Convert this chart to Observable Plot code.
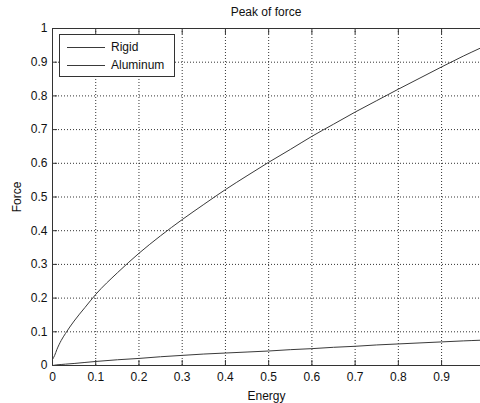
<!DOCTYPE html>
<html>
<head>
<meta charset="utf-8">
<script src="https://cdn.jsdelivr.net/npm/d3@7"></script>
<script src="https://cdn.jsdelivr.net/npm/@observablehq/plot@0.6"></script>
<style>
  html, body { margin: 0; padding: 0; background: #fff; }
  #wrap { position: relative; width: 480px; height: 403px; overflow: hidden; font-family: "Liberation Sans", Arial, sans-serif; }
  #title { position: absolute; left: 52px; width: 428px; top: 5px; text-align: center; font-size: 12px; color: #111; }
  #legend { position: absolute; left: 59px; top: 34px; width: 114px; height: 41px; border: 1px solid #333; background: #fff; font-size: 12px; color: #111; }
  .row { position: absolute; left: 7px; height: 14px; display: flex; align-items: center; }
  .row span.ln { display: inline-block; width: 38px; height: 0; border-top: 1px solid #3a3a3a; margin-right: 6px; }
</style>
</head>
<body>
<div id="wrap">
  <div id="chart"></div>
  <div id="title">Peak of force</div>
  <div id="legend"></div>
</div>
<script>
const energy   = [0, 0.005, 0.01, 0.02, 0.03, 0.05, 0.075, 0.1, 0.15, 0.2, 0.25, 0.3, 0.35, 0.4, 0.45, 0.5, 0.55, 0.6, 0.65, 0.7, 0.75, 0.8, 0.85, 0.9, 0.95, 0.99];
const rigid    = [0.018, 0.03, 0.047, 0.074, 0.095, 0.132, 0.172, 0.211, 0.275, 0.333, 0.385, 0.433, 0.478, 0.522, 0.563, 0.603, 0.641, 0.68, 0.716, 0.752, 0.786, 0.82, 0.853, 0.886, 0.918, 0.942];
const aluminum = [0, 0.001, 0.002, 0.003, 0.004, 0.006, 0.009, 0.012, 0.017, 0.021, 0.026, 0.03, 0.034, 0.037, 0.04, 0.043, 0.047, 0.05, 0.054, 0.057, 0.061, 0.064, 0.067, 0.07, 0.073, 0.075];
const seriesNames = ["Rigid", "Aluminum"];
const xTicks = [0, 0.1, 0.2, 0.3, 0.4, 0.5, 0.6, 0.7, 0.8, 0.9];
const yTicks = [0, 0.1, 0.2, 0.3, 0.4, 0.5, 0.6, 0.7, 0.8, 0.9, 1];

const rows = [];
energy.forEach((e, i) => {
  rows.push({energy: e, force: rigid[i], series: seriesNames[0]});
  rows.push({energy: e, force: aluminum[i], series: seriesNames[1]});
});

const fmt = d => String(d);
const gridStyle = {stroke: "#000", strokeOpacity: 0.8, strokeDasharray: "1,2"};

const chart = Plot.plot({
  width: 480,
  height: 403,
  marginLeft: 52,
  marginRight: 0,
  marginTop: 28,
  marginBottom: 38,
  style: {fontFamily: "'Liberation Sans', Arial, sans-serif", fontSize: "12px", color: "#111", background: "#fff"},
  x: {domain: [0, 0.99]},
  y: {domain: [0, 1]},
  marks: [
    Plot.gridX(xTicks.slice(1), gridStyle),
    Plot.gridY(yTicks.slice(1, -1), gridStyle),
    Plot.ruleY([0, 1], {stroke: "#333"}),
    Plot.ruleX([0], {stroke: "#333"}),
    Plot.axisX(xTicks, {anchor: "bottom", tickSize: -5, tickPadding: 12, tickFormat: fmt, stroke: "#333",
      label: "Energy", labelAnchor: "center", labelArrow: "none", labelOffset: 34}),
    Plot.axisX(xTicks, {anchor: "top", tickSize: -5, tickFormat: () => "", stroke: "#333", label: null}),
    Plot.axisY(yTicks, {anchor: "left", tickSize: -5, tickPadding: 10, tickFormat: fmt, stroke: "#333",
      label: "Force", labelAnchor: "center", labelArrow: "none", labelOffset: 40}),
    Plot.line(rows, {x: "energy", y: "force", z: "series", stroke: "#3a3a3a", strokeWidth: 1, curve: "monotone-x"})
  ]
});
document.getElementById("chart").appendChild(chart);

const legend = document.getElementById("legend");
seriesNames.forEach((name, i) => {
  const r = document.createElement("div");
  r.className = "row";
  r.style.top = (5 + i * 18) + "px";
  r.innerHTML = '<span class="ln"></span><span>' + name + '</span>';
  legend.appendChild(r);
});
</script>
</body>
</html>
